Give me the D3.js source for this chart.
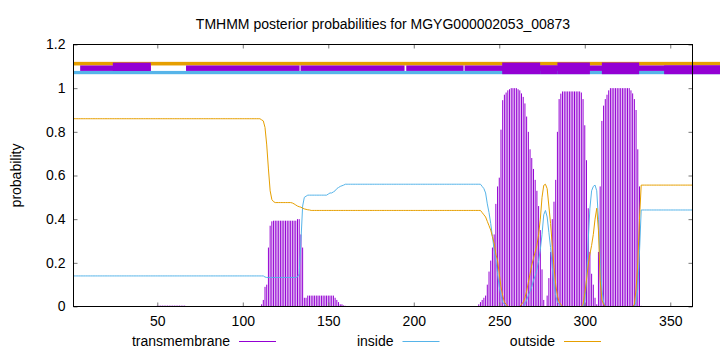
<!DOCTYPE html>
<html><head><meta charset="utf-8">
<script src="https://cdn.jsdelivr.net/npm/d3@7"></script>
<style>
body{margin:0;background:#fff}
svg{display:block}
text{font-family:"Liberation Sans",Arial,sans-serif;font-size:14px;fill:#000}
</style>
</head><body><svg id="c" width="720" height="352"></svg>
<script>
function rep(v, n) { return Array(n).fill(v); }

const title = "TMHMM posterior probabilities for MGYG000002053_00873";
const yAxisTitle = "probability";
const seqLength = 363;
const xTicks = [50, 100, 150, 200, 250, 300, 350];
const yTicks = [0, 0.2, 0.4, 0.6, 0.8, 1, 1.2];
const yTickLabels = ["0", "0.2", "0.4", "0.6", "0.8", "1", "1.2"];
const seriesNames = ["transmembrane", "inside", "outside"];

// posterior probability per residue (1..363)
const transmembrane = [].concat(
  rep(0, 49), rep(0.004, 17), rep(0, 44),
  [0.01, 0.03, 0.09, 0.10, 0.27, 0.37, 0.39],
  rep(0.393, 14),
  [0.40, 0.40, 0.33, 0.27, 0.04, 0.04],
  rep(0.05, 16),
  [0.04, 0.03, 0.02, 0.01, 0.01, 0.005, 0.003],
  rep(0, 77),
  [0.01, 0.02, 0.03, 0.04, 0.05, 0.10, 0.16, 0.21, 0.27, 0.33, 0.47, 0.55, 0.59, 0.81, 0.945, 0.97, 0.98, 0.99, 0.995, 1.0, 1.0, 1.0, 1.0, 0.995, 0.99],
  [0.976, 0.96, 0.93, 0.87, 0.80, 0.72, 0.68, 0.63, 0.58, 0.53, 0.46, 0.35, 0.17, 0.03, 0.0],
  [0.05, 0.13, 0.25, 0.40, 0.48, 0.58, 0.80, 0.95, 0.975],
  rep(0.985, 11),
  [0.98, 0.95, 0.83, 0.67, 0.45, 0.25, 0.15, 0.10, 0.04, 0.01, 0.25, 0.55, 0.85, 0.92, 0.95, 0.97, 0.99],
  rep(1.0, 12),
  [0.99, 0.976, 0.95, 0.90, 0.72, 0.55, 0.003],
  rep(0, 30)
);

const inside = [].concat(
  rep(0.14, 110),
  [0.14, 0.14, 0.135, 0.133, 0.133],
  rep(0.133, 16),
  [0.135, 0.15, 0.30, 0.46, 0.50, 0.505],
  rep(0.51, 12),
  [0.515, 0.52, 0.52, 0.525, 0.53, 0.54, 0.545, 0.55, 0.553, 0.556],
  rep(0.56, 80),
  [0.55, 0.54, 0.52, 0.47, 0.43, 0.38, 0.32, 0.26, 0.21, 0.15, 0.09, 0.05, 0.02, 0.01],
  rep(0, 11),
  [0.01, 0.03, 0.05, 0.07, 0.09, 0.12, 0.14, 0.17, 0.21, 0.26, 0.33, 0.42, 0.44, 0.41, 0.34, 0.27, 0.18, 0.10, 0.05, 0.02, 0.01],
  rep(0, 14),
  [0.02, 0.12, 0.30, 0.45, 0.53, 0.55, 0.556, 0.53, 0.40, 0.20, 0.08, 0.02],
  rep(0, 18),
  [0.02, 0.08, 0.25, 0.442],
  rep(0.442, 30)
);

const outside = [].concat(
  rep(0.86, 110),
  [0.855, 0.85, 0.82, 0.74, 0.63, 0.53, 0.49, 0.48],
  rep(0.476, 10),
  [0.474, 0.47, 0.465, 0.46, 0.457, 0.455, 0.45, 0.447, 0.445, 0.443, 0.442],
  rep(0.44, 99),
  [0.44, 0.43, 0.42, 0.41, 0.39, 0.37, 0.35, 0.32, 0.29, 0.24, 0.21, 0.15, 0.09, 0.05, 0.02, 0.01],
  rep(0, 8),
  [0.01, 0.02, 0.04, 0.07, 0.11, 0.15, 0.19, 0.22, 0.25, 0.28, 0.33, 0.40, 0.50, 0.555, 0.56, 0.54, 0.46, 0.38, 0.28, 0.18, 0.10, 0.05, 0.02, 0.01],
  rep(0, 12),
  [0.01, 0.06, 0.12, 0.19, 0.24, 0.28, 0.33, 0.40, 0.45, 0.35, 0.12, 0.03, 0.01],
  rep(0, 17),
  [0.01, 0.08, 0.20, 0.40, 0.556],
  rep(0.556, 30)
);

// top prediction band segments (residue ranges)
const bandEnd = 380;
const bandMain = [[4.9, 46.2], [66.8, 133.2], [133.8, 194.6], [195.6, 229.1], [229.7, 380]];
const bandTallTop = [[24, 46.2]];
const bandTallFull = [[251.7, 273.9], [284, 303], [310, 331.8]];
const bandCoverInside = [[273.9, 284], [346.4, 380]];

const colors = { transmembrane: "#9400d3", inside: "#56b4e9", outside: "#e69f00" };

const svg = d3.select("#c");
const L = 73.5, R = 692.5, T = 44.5, B = 306.5;
const x = d3.scaleLinear().domain([1, seqLength]).range([L, R]);
const y = d3.scaleLinear().domain([0, 1.2]).range([B, T]);

// title
svg.append("text").attr("x", (L + R) / 2).attr("y", 29).attr("text-anchor", "middle").text(title);

// y axis title
svg.append("text").attr("transform", `translate(21,${(T + B) / 2}) rotate(-90)`)
  .attr("text-anchor", "middle").text(yAxisTitle);

// bands
function band(segs, v0, v1, color) {
  svg.append("g").selectAll("rect").data(segs).join("rect")
    .attr("x", d => x(d[0])).attr("width", d => x(d[1]) - x(d[0]))
    .attr("y", y(v1)).attr("height", y(v0) - y(v1)).attr("fill", color);
}
band([[1, bandEnd]], 1.104, 1.1205, colors.outside);
band([[1, bandEnd]], 1.064, 1.079, colors.inside);
band(bandMain, 1.079, 1.104, colors.transmembrane);
band(bandTallTop, 1.079, 1.117, colors.transmembrane);
band(bandTallFull, 1.064, 1.1175, colors.transmembrane);
band(bandCoverInside, 1.064, 1.104, colors.transmembrane);

const residues = d3.range(1, seqLength + 1);

// impulses
svg.append("g").selectAll("line").data(residues.filter(r => transmembrane[r - 1] > 0)).join("line")
  .attr("x1", r => x(r)).attr("x2", r => x(r))
  .attr("y1", y(0)).attr("y2", r => y(transmembrane[r - 1]))
  .attr("stroke", colors.transmembrane).attr("stroke-width", 1);

const line = arr => d3.line().x(r => x(r)).y(r => y(arr[r - 1]))(residues);
svg.append("path").attr("d", line(inside)).attr("fill", "none").attr("stroke", colors.inside).attr("stroke-width", 1);
svg.append("path").attr("d", line(outside)).attr("fill", "none").attr("stroke", colors.outside).attr("stroke-width", 1);

// axes
function styleAxis(g) {
  g.select(".domain").remove();
  g.selectAll(".tick line").attr("stroke", "#777");
  g.selectAll("text").attr("font-family", null).attr("font-size", null).attr("fill", "#000");
  g.attr("font-family", null).attr("font-size", null);
}
svg.append("g").attr("transform", `translate(0,${B})`)
  .call(d3.axisBottom(x).tickValues(xTicks).tickSizeInner(-4).tickSizeOuter(0).tickPadding(10))
  .call(styleAxis);
svg.append("g").attr("transform", `translate(0,${T})`)
  .call(d3.axisTop(x).tickValues(xTicks).tickSizeInner(-4).tickSizeOuter(0).tickFormat(""))
  .call(styleAxis);
svg.append("g").attr("transform", `translate(${L},0)`)
  .call(d3.axisLeft(y).tickValues(yTicks).tickSizeInner(-4).tickSizeOuter(0).tickPadding(8)
    .tickFormat((d, i) => yTickLabels[i]))
  .call(styleAxis);
svg.append("g").attr("transform", `translate(${R},0)`)
  .call(d3.axisRight(y).tickValues(yTicks).tickSizeInner(-4).tickSizeOuter(0).tickFormat(""))
  .call(styleAxis);

// frame
svg.append("rect").attr("x", L).attr("y", T).attr("width", R - L).attr("height", B - T)
  .attr("fill", "none").attr("stroke", "#000").attr("stroke-width", 1);

// legend
const legendTextEnd = [230, 393.5, 555];
seriesNames.forEach((name, i) => {
  const ex = legendTextEnd[i];
  svg.append("text").attr("x", ex).attr("y", 346).attr("text-anchor", "end").text(name);
  svg.append("line").attr("x1", ex + 9).attr("x2", ex + 46).attr("y1", 341.5).attr("y2", 341.5)
    .attr("stroke", colors[name]).attr("stroke-width", 1);
});

if (transmembrane.length !== seqLength || inside.length !== seqLength || outside.length !== seqLength) {
  svg.append("text").attr("x", 100).attr("y", 150).attr("fill", "red")
    .text(`len ${transmembrane.length} ${inside.length} ${outside.length}`);
}
</script>
</body></html>
